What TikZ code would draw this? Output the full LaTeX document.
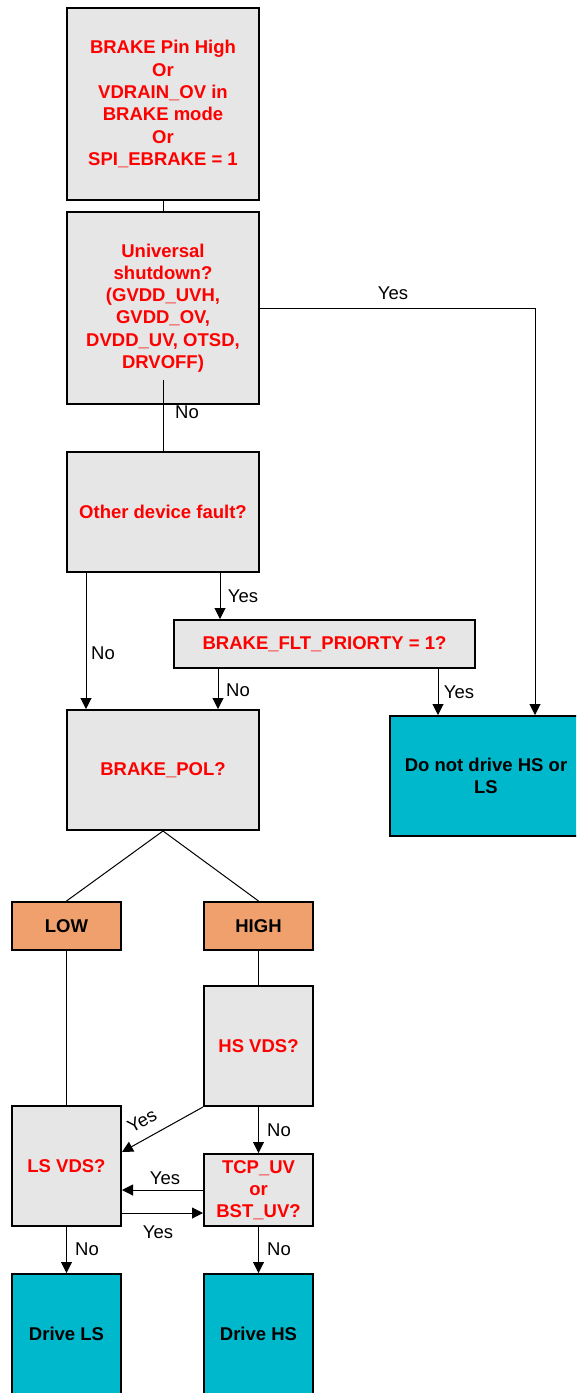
\documentclass[tikz,border=0pt]{standalone}
\usepackage{fontspec}
\setmainfont{Liberation Sans}
\usetikzlibrary{arrows.meta}

\definecolor{boxgray}{HTML}{E6E6E6}
\definecolor{drivecyan}{HTML}{00B8CC}
\definecolor{polorange}{HTML}{EFA06C}

\newcommand{\flowfont}{\fontsize{18.5}{22.3}\selectfont}

\tikzset{
    check/.style={draw, line width=2pt, fill=boxgray, text=red,
        font=\flowfont\bfseries, align=center, inner sep=0pt},
    drive/.style={draw, line width=2pt, fill=drivecyan,
        font=\flowfont\bfseries, align=center, inner sep=0pt},
    polarity/.style={draw, line width=2pt, fill=polorange,
        font=\flowfont\bfseries, align=center, inner sep=0pt},
    link/.style={line width=1pt},
    arr/.style={line width=1pt, -{Triangle[length=11pt,width=11pt]}},
    lbl/.style={font=\flowfont, inner sep=0pt}
}

\begin{document}
\begin{tikzpicture}[x=1pt, y=-1pt]
    \path[use as bounding box, clip] (0,0) rectangle (576,1393);

    % Entry conditions and first checks
    \node[check, minimum width=192pt, minimum height=192pt] (brake) at (163,104)
        {BRAKE Pin High\\Or\\VDRAIN\_OV in\\BRAKE mode\\Or\\SPI\_EBRAKE = 1};
    \node[check, minimum width=192pt, minimum height=192pt] (univ) at (163,308)
        {Universal\\shutdown?\\(GVDD\_UVH,\\GVDD\_OV,\\DVDD\_UV, OTSD,\\DRVOFF)};
    \node[check, minimum width=192pt, minimum height=120pt] (other) at (163,512)
        {Other device fault?};
    \node[check, minimum width=301pt, minimum height=48pt] (flt) at (324.5,644)
        {BRAKE\_FLT\_PRIORTY = 1?};
    \node[check, minimum width=192pt, minimum height=120pt] (pol) at (163,770)
        {BRAKE\_POL?};
    \node[drive, minimum width=192pt, minimum height=120pt] (nodrive) at (486,776)
        {Do not drive HS or\\LS};

    % Polarity branches
    \node[polarity, minimum width=109pt, minimum height=48pt] (low) at (66.5,926) {LOW};
    \node[polarity, minimum width=109pt, minimum height=48pt] (high) at (258.5,926) {HIGH};
    \node[check, minimum width=109pt, minimum height=120pt] (hsvds) at (258.5,1046) {HS VDS?};
    \node[check, minimum width=109pt, minimum height=120pt] (lsvds) at (66.5,1166) {LS VDS?};
    \node[check, minimum width=109pt, minimum height=72pt] (tcp) at (258.5,1190)
        {TCP\_UV\\or\\BST\_UV?};
    \node[drive, minimum width=109pt, minimum height=120pt] (drivels) at (66.5,1334) {Drive LS};
    \node[drive, minimum width=109pt, minimum height=120pt] (drivehs) at (258.5,1334) {Drive HS};

    % Top part
    \draw[link] (brake) -- (univ);
    \draw[link] ([yshift=25pt]univ.south) -- (other.north);
    \node[lbl] (noUniv) at (187,412) {No};
    \draw[arr] (univ.east) -| ([xshift=49pt]nodrive.north);
    \node[lbl] (yesUniv) at (393,293) {Yes};

    % Device fault
    \draw[arr] ([xshift=-77pt]other.south) -- ([xshift=-77pt]pol.north);
    \node[lbl] (noOther) at (103,653) {No};
    \draw[arr] ([xshift=57pt]other.south) coordinate (o) -- (o |- flt.north);
    \node[lbl] (yesOther) at (243,596) {Yes};
    \draw[arr] ([xshift=-106.5pt]flt.south) coordinate (f) -- (f |- pol.north);
    \node[lbl] (noFlt) at (238,690) {No};
    \draw[arr] ([xshift=113.5pt]flt.south) coordinate (g) -- (g |- nodrive.north);
    \node[lbl] (yesFlt) at (459,692) {Yes};

    % Polarity
    \draw[link] (pol.south) -- (low.north);
    \draw[link] (pol.south) -- (high.north);
    \draw[link] (low) -- (lsvds);
    \draw[link] (high) -- (hsvds);

    % VDS and UV checks
    \draw[arr] (hsvds.south west) -- ([yshift=14pt]lsvds.east);
    \node[lbl, rotate=29] (yesHs) at (142,1121) {Yes};
    \draw[arr] (hsvds) -- (tcp);
    \node[lbl] (noHs) at (279,1130) {No};
    \draw[arr] (tcp.west) -- (tcp.west -| lsvds.east);
    \node[lbl] (yesTcp) at (165,1178) {Yes};
    \draw[arr] ([yshift=-47pt]lsvds.east) coordinate (l) -- (l -| tcp.west);
    \node[lbl] (yesLs) at (158,1232) {Yes};
    \draw[arr] (lsvds) -- (drivels);
    \node[lbl] (noLs) at (87,1249) {No};
    \draw[arr] (tcp) -- (drivehs);
    \node[lbl] (noTcp) at (279,1249) {No};
\end{tikzpicture}
\end{document}
